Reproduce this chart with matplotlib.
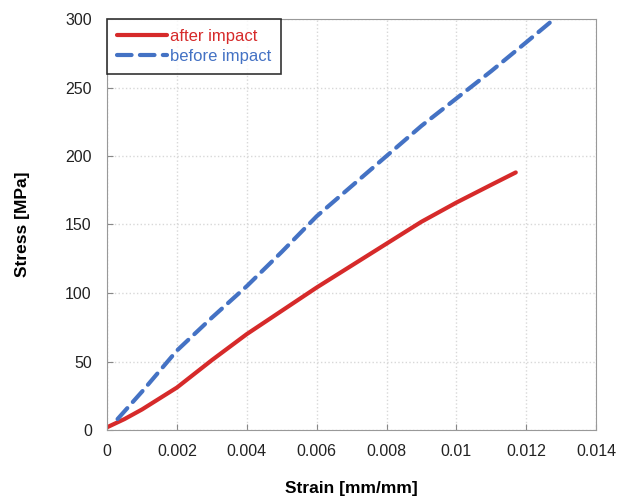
import numpy as np
import matplotlib.pyplot as plt

plt.rcParams['font.family'] = ['Liberation Sans', 'DejaVu Sans']

strain_after = [0, 0.0005, 0.001, 0.002, 0.003, 0.004, 0.005, 0.006, 0.007,
                0.008, 0.009, 0.010, 0.011, 0.0117]
stress_after = [2, 8, 15, 31, 51, 70, 87, 104, 120, 136, 152, 166, 179, 188]

strain_before = [0.0003, 0.001, 0.002, 0.003, 0.004, 0.005, 0.006, 0.007,
                 0.008, 0.009, 0.010, 0.011, 0.012, 0.0128]
stress_before = [8, 28, 58, 82, 105, 130, 156, 178, 200, 222, 242, 262, 283, 300]

xticks = [0, 0.002, 0.004, 0.006, 0.008, 0.01, 0.012, 0.014]
xtick_labels = ['0', '0.002', '0.004', '0.006', '0.008', '0.01', '0.012', '0.014']
yticks = [0, 50, 100, 150, 200, 250, 300]

red = '#d62a2a'
blue = '#4472c4'

fig = plt.figure(figsize=(6.19, 5.0), dpi=100)
ax = fig.add_axes([0.173, 0.14, 0.79, 0.822])

ax.plot(strain_after, stress_after, color=red, lw=3, label='after impact',
        solid_capstyle='round')
ax.plot(strain_before, stress_before, color=blue, lw=3, ls=(0, (3.5, 2.0)),
        label='before impact', dash_capstyle='round')

ax.set_xlim(0, 0.014)
ax.set_ylim(0, 300)
ax.set_xticks(xticks)
ax.set_xticklabels(xtick_labels)
ax.set_yticks(yticks)
ax.tick_params(direction='in', length=4, color='#888888', labelsize=11.5,
               labelcolor='#222222')
ax.tick_params(axis='x', pad=10)
ax.tick_params(axis='y', pad=11)
ax.grid(True, ls=':', color='#d8d8d8', lw=1)
for s in ax.spines.values():
    s.set_color('#999999')
    s.set_linewidth(0.8)

ax.set_xlabel('Strain [mm/mm]', fontsize=12.5, fontweight='bold', labelpad=16)
ax.set_ylabel('Stress [MPa]', fontsize=12.5, fontweight='bold')
ax.yaxis.set_label_coords(-0.157, 0.5)

leg = ax.legend(loc='upper left', fontsize=12, frameon=True, fancybox=False,
                borderaxespad=0, handlelength=3.0, handletextpad=0.15,
                borderpad=0.6, labelspacing=0.3)
leg.get_frame().set_edgecolor('black')
leg.get_frame().set_linewidth(1.2)
for txt, c in zip(leg.get_texts(), [red, blue]):
    txt.set_color(c)

fig.savefig('out.png', dpi=100)
